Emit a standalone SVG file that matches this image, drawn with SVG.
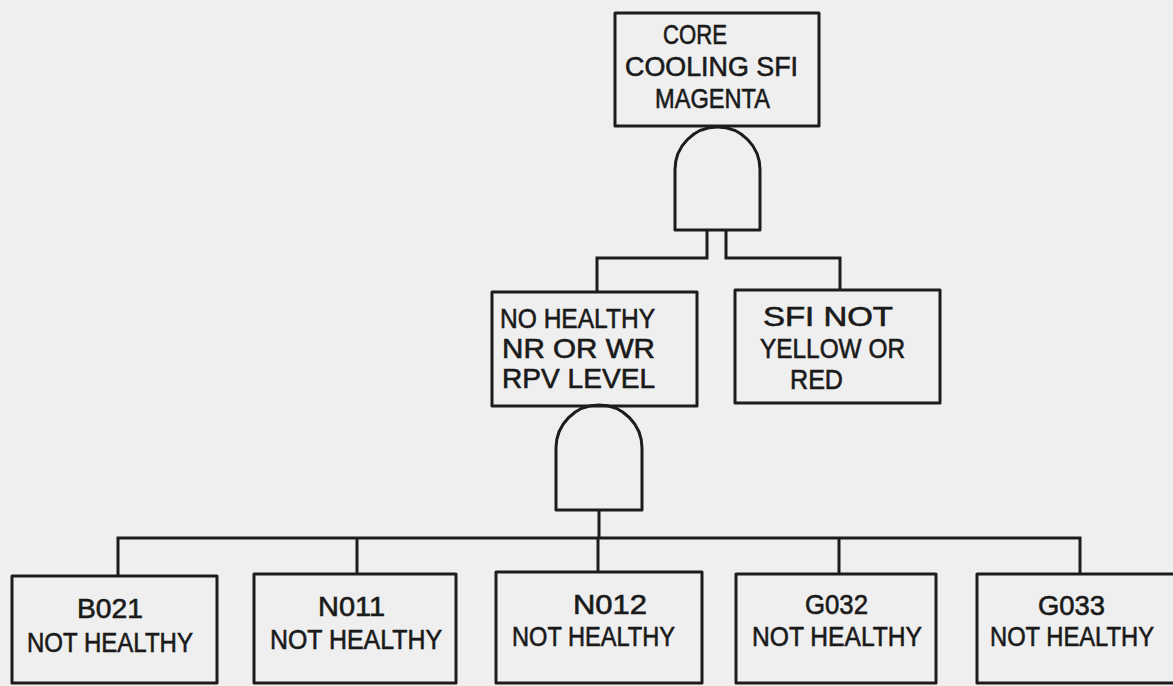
<svg xmlns="http://www.w3.org/2000/svg" width="1173" height="686" viewBox="0 0 1173 686">
<style>
.box{fill:none;stroke:#1c1c1c;stroke-width:3;stroke-linejoin:round}
.gate{fill:none;stroke:#1c1c1c;stroke-width:3;stroke-linejoin:round}
.wire{fill:none;stroke:#1c1c1c;stroke-width:3}
text{font-family:"Liberation Sans","DejaVu Sans",sans-serif;font-size:27px;fill:#1a1a1a;stroke:#1a1a1a;stroke-width:0.6}
</style>
<rect width="1173" height="686" fill="#efefef"/>
<g id="connectors">
<path class="wire" d="M707,230 V258 H597 V292"/>
<path class="wire" d="M726,230 V258 H840 V290"/>
<path class="wire" d="M599,510 V538"/>
<path class="wire" d="M118,576 V538 H1080 V574"/>
<path class="wire" d="M357,538 V574"/>
<path class="wire" d="M598,538 V572"/>
<path class="wire" d="M839,538 V574"/>
</g>
<g id="top-event">
<rect class="box" x="615" y="13" width="204" height="113"/>
<text x="663" y="44" textLength="64" lengthAdjust="spacingAndGlyphs">CORE</text>
<text x="625" y="76" textLength="173" lengthAdjust="spacingAndGlyphs">COOLING SFI</text>
<text x="655" y="108" textLength="115" lengthAdjust="spacingAndGlyphs">MAGENTA</text>
</g>
<g id="and-gate-top">
<path class="gate" d="M675,230 V169.5 A42.5,42.5 0 0 1 760,169.5 V230 Z"/>
</g>
<g id="no-healthy-level">
<rect class="box" x="492" y="292" width="205" height="114"/>
<text x="500" y="328" textLength="155" lengthAdjust="spacingAndGlyphs">NO HEALTHY</text>
<text x="502" y="358" textLength="153" lengthAdjust="spacingAndGlyphs">NR OR WR</text>
<text x="502" y="388" textLength="153" lengthAdjust="spacingAndGlyphs">RPV LEVEL</text>
</g>
<g id="sfi-not-yellow-red">
<rect class="box" x="735" y="290" width="205" height="113"/>
<text x="763" y="326" textLength="130" lengthAdjust="spacingAndGlyphs">SFI NOT</text>
<text x="760" y="358" textLength="145" lengthAdjust="spacingAndGlyphs">YELLOW OR</text>
<text x="790" y="389" textLength="53" lengthAdjust="spacingAndGlyphs">RED</text>
</g>
<g id="and-gate-mid">
<path class="gate" d="M556,510 V448 A43,43 0 0 1 642,448 V510 Z"/>
</g>
<g id="b021">
<rect class="box" x="12" y="576" width="205" height="107"/>
<text x="77" y="618" textLength="66" lengthAdjust="spacingAndGlyphs">B021</text>
<text x="27" y="652" textLength="166" lengthAdjust="spacingAndGlyphs">NOT HEALTHY</text>
</g>
<g id="n011">
<rect class="box" x="254" y="574" width="202" height="109"/>
<text x="318" y="616" textLength="67" lengthAdjust="spacingAndGlyphs">N011</text>
<text x="270" y="649" textLength="172" lengthAdjust="spacingAndGlyphs">NOT HEALTHY</text>
</g>
<g id="n012">
<rect class="box" x="496" y="572" width="206" height="111"/>
<text x="573" y="614" textLength="74" lengthAdjust="spacingAndGlyphs">N012</text>
<text x="512" y="646" textLength="163" lengthAdjust="spacingAndGlyphs">NOT HEALTHY</text>
</g>
<g id="g032">
<rect class="box" x="736" y="574" width="200" height="109"/>
<text x="805" y="614" textLength="63" lengthAdjust="spacingAndGlyphs">G032</text>
<text x="752" y="646" textLength="170" lengthAdjust="spacingAndGlyphs">NOT HEALTHY</text>
</g>
<g id="g033">
<rect class="box" x="977" y="574" width="210" height="109"/>
<text x="1038" y="615" textLength="67" lengthAdjust="spacingAndGlyphs">G033</text>
<text x="990" y="646" textLength="164" lengthAdjust="spacingAndGlyphs">NOT HEALTHY</text>
</g>
</svg>
